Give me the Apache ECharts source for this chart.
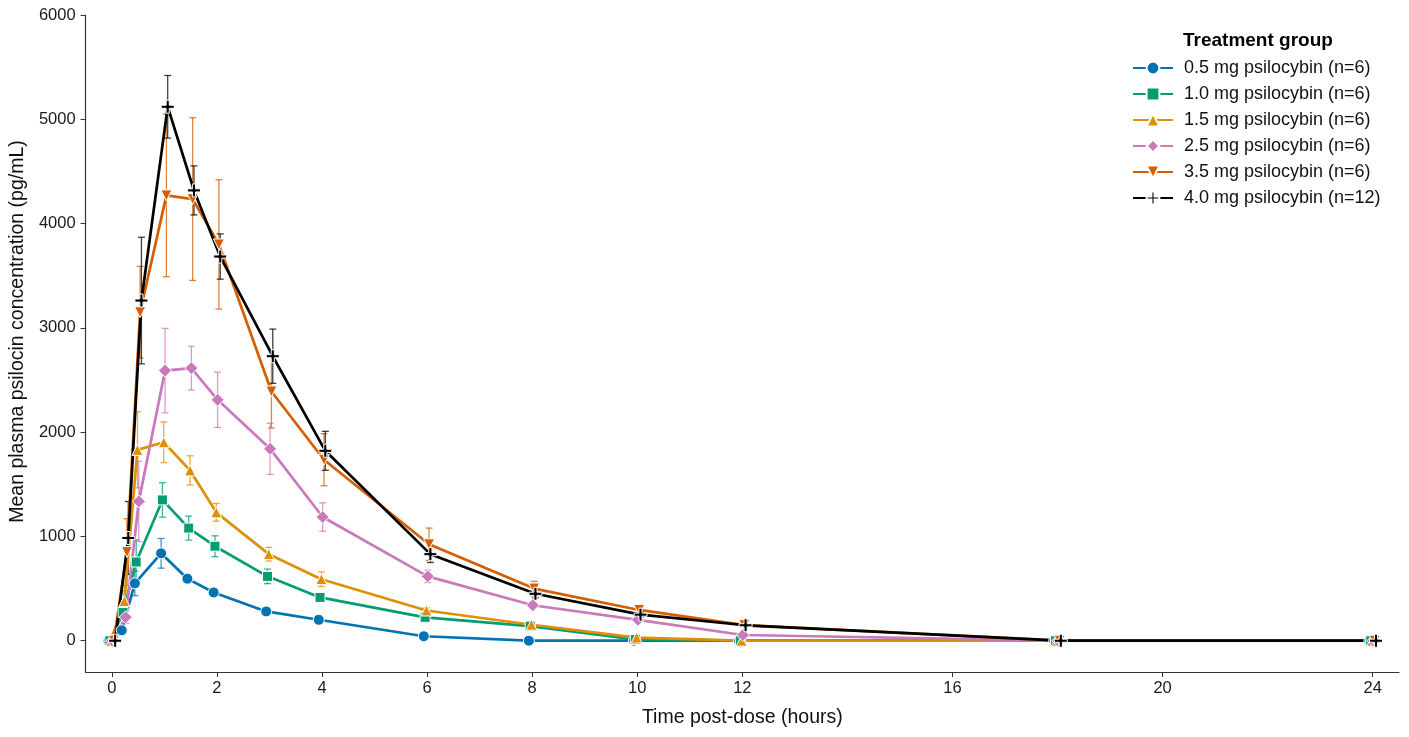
<!DOCTYPE html>
<html>
<head>
<meta charset="utf-8">
<script src="https://cdn.jsdelivr.net/npm/echarts@6/dist/echarts.min.js"></script>
<style>
  html, body { margin: 0; padding: 0; background: #fff; }
  #chart { width: 1409px; height: 737px; }
</style>
</head>
<body>
<div id="chart"></div>
<script>
// sampling times (hours)
const times = [0, 0.25, 0.5, 1, 1.5, 2, 3, 4, 6, 8, 10, 12, 18, 24];
const xTicks = [0, 2, 4, 6, 8, 10, 12, 16, 20, 24];
const yTicks = [0, 1000, 2000, 3000, 4000, 5000, 6000];

const groupNames = [
  '0.5 mg psilocybin (n=6)',
  '1.0 mg psilocybin (n=6)',
  '1.5 mg psilocybin (n=6)',
  '2.5 mg psilocybin (n=6)',
  '3.5 mg psilocybin (n=6)',
  '4.0 mg psilocybin (n=12)'
];

// mean concentrations (pg/mL)
const mean05 = [0, 100, 550, 838, 595, 463, 281, 201, 43, 0, 0, 0, 0, 0];
const mean10 = [0, 270, 755, 1350, 1080, 906, 617, 415, 224, 140, 12, 0, 0, 0];
const mean15 = [0, 380, 1830, 1903, 1633, 1231, 830, 590, 290, 153, 30, 0, 0, 0];
const mean25 = [0, 225, 1336, 2590, 2614, 2310, 1840, 1186, 617, 340, 200, 55, 0, 0];
const mean35 = [0, 850, 3150, 4270, 4235, 3800, 2390, 1735, 925, 500, 295, 150, 0, 0];
const mean40 = [0, 985, 3262, 5120, 4318, 3684, 2728, 1821, 830, 450, 250, 148, 0, 0];

// error bar half-widths (pg/mL)
const err05 = [0, 25, 118, 142, 40, 25, 15, 12, 8, 0, 0, 0, 0, 0];
const err10 = [0, 60, 212, 165, 115, 100, 70, 30, 20, 15, 10, 0, 0, 0];
const err15 = [0, 100, 365, 195, 140, 85, 65, 70, 25, 20, 15, 0, 0, 0];
const err25 = [0, 60, 385, 405, 210, 265, 245, 136, 60, 30, 25, 10, 0, 0];
const err35 = [0, 320, 440, 780, 780, 620, 350, 250, 155, 70, 30, 15, 0, 0];
const err40 = [0, 350, 607, 300, 235, 217, 260, 187, 80, 40, 20, 10, 0, 0];

const means = [mean05, mean10, mean15, mean25, mean35, mean40];
const errs = [err05, err10, err15, err25, err35, err40];

const colors = ['#0173b2', '#029e73', '#de8f05', '#cc78bc', '#d55e00', '#000000'];
const plusPath = 'path://M3.8,0H6.2V3.8H10V6.2H6.2V10H3.8V6.2H0V3.8H3.8Z';
const symbols = ['circle', 'rect', 'triangle', 'diamond', 'triangle', plusPath];
const symbolSizes = [11, 10, 11, 13, 11, 13];
const rotations = [0, 0, 0, 0, 180, 0];
const dodge = 0.025; // small horizontal offset between groups

const font = 'Liberation Sans, Arial, sans-serif';

const series = [];
groupNames.forEach((name, i) => {
  const off = (i - 2.5) * dodge;
  const pts = times.map((t, k) => [t + off, means[i][k], errs[i][k]]);

  series.push({
    name: name + ' sd',
    type: 'custom',
    z: 2,
    silent: true,
    data: pts,
    renderItem: (params, api) => {
      const x = api.value(0), m = api.value(1), e = api.value(2);
      if (!e) return null;
      const top = api.coord([x, m + e]);
      const bot = api.coord([x, m - e]);
      const cap = 3.5;
      const style = { stroke: colors[i], lineWidth: 1.3, opacity: 0.75 };
      return {
        type: 'group',
        children: [
          { type: 'line', shape: { x1: top[0], y1: top[1], x2: bot[0], y2: bot[1] }, style },
          { type: 'line', shape: { x1: top[0] - cap, y1: top[1], x2: top[0] + cap, y2: top[1] }, style },
          { type: 'line', shape: { x1: bot[0] - cap, y1: bot[1], x2: bot[0] + cap, y2: bot[1] }, style }
        ]
      };
    }
  });

  series.push({
    name: name,
    type: 'line',
    z: 3,
    data: pts.map(p => [p[0], p[1]]),
    symbol: symbols[i],
    symbolSize: symbolSizes[i],
    symbolRotate: rotations[i],
    showAllSymbol: true,
    lineStyle: { color: colors[i], width: 2.7 },
    itemStyle: { color: colors[i], borderColor: '#fff', borderWidth: 1 },
    emphasis: { disabled: true },
    animation: false
  });
});

const chart = echarts.init(document.getElementById('chart'));
chart.setOption({
  animation: false,
  textStyle: { fontFamily: font },
  title: {
    text: 'Treatment group',
    left: 1178,
    top: 26,
    textStyle: { fontFamily: font, fontSize: 19, fontWeight: 'bold', color: '#000' }
  },
  legend: {
    data: groupNames,
    orient: 'vertical',
    left: 1127,
    top: 54,
    itemWidth: 40,
    itemHeight: 16,
    itemGap: 8,
    textStyle: { fontFamily: font, fontSize: 18, color: '#111', padding: [0, 0, 0, 6] }
  },
  grid: { left: 85, right: 10, top: 15, bottom: 65, containLabel: false },
  xAxis: {
    type: 'value',
    min: -0.5,
    max: 24.5,
    name: 'Time post-dose (hours)',
    nameLocation: 'middle',
    nameGap: 36,
    nameTextStyle: { fontFamily: font, fontSize: 19.5, color: '#111' },
    axisLine: { onZero: false, lineStyle: { color: '#333', width: 1.2 } },
    axisTick: { show: true, length: 5, customValues: xTicks, lineStyle: { color: '#333' } },
    axisLabel: { customValues: xTicks, fontSize: 16.5, color: '#1a1a1a', margin: 8 },
    splitLine: { show: false }
  },
  yAxis: {
    type: 'value',
    min: -300,
    max: 6000,
    name: 'Mean plasma psilocin concentration (pg/mL)',
    nameLocation: 'middle',
    nameGap: 53,
    nameTextStyle: { fontFamily: font, fontSize: 19.5, color: '#111', padding: [0, 0, 0, 24] },
    axisLine: { show: true, onZero: false, lineStyle: { color: '#333', width: 1.2 } },
    axisTick: { show: true, length: 5, customValues: yTicks, lineStyle: { color: '#333' } },
    axisLabel: { customValues: yTicks, formatter: v => String(v), fontSize: 16.5, color: '#1a1a1a', margin: 10 },
    splitLine: { show: false }
  },
  series: series
});
</script>
</body>
</html>
